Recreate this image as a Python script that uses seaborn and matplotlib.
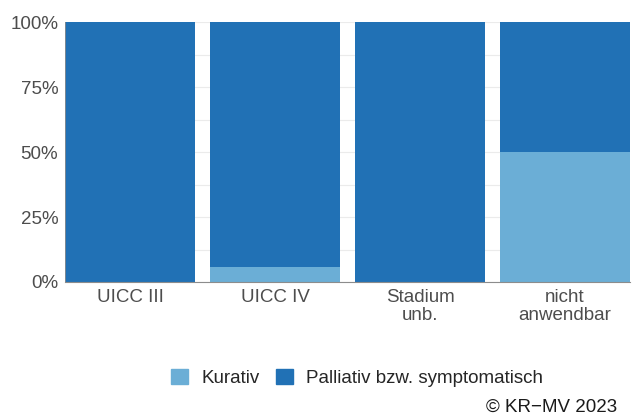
import numpy as np
import pandas as pd
import seaborn as sns
import matplotlib.pyplot as plt
from matplotlib.patches import Patch
from matplotlib.ticker import MultipleLocator, PercentFormatter

# data (percent of cases)
stadien = ['UICC III', 'UICC IV', 'Stadium\nunb.', 'nicht\nanwendbar']
kurativ = [0.0, 5.8, 0.0, 50.0]
palliativ = [100.0, 94.2, 100.0, 50.0]

col_kur = '#6baed6'
col_pal = '#2171b5'

sns.set_style('white')
plt.rcParams['font.family'] = ['Liberation Sans', 'DejaVu Sans']

df = pd.DataFrame({'stadium': stadien, 'kurativ': kurativ, 'palliativ': palliativ})
df['gesamt'] = df['kurativ'] + df['palliativ']

fig = plt.figure(figsize=(6.32, 4.19), dpi=100)
ax = fig.add_axes([0.103, 0.327, 0.894, 0.62])

# stacked: full bar in dark blue, kurativ part over it
sns.barplot(data=df, x='stadium', y='gesamt', color=col_pal, width=0.9, saturation=1,
            linewidth=0, ax=ax)
sns.barplot(data=df, x='stadium', y='kurativ', color=col_kur, width=0.9, saturation=1,
            linewidth=0, ax=ax)

ax.set_xlim(-0.45, 3.45)
ax.set_ylim(0, 100)
ax.yaxis.set_major_locator(MultipleLocator(25))
ax.yaxis.set_minor_locator(MultipleLocator(12.5))
ax.yaxis.set_major_formatter(PercentFormatter(decimals=0))
ax.grid(axis='y', which='both', color='#ebebeb', linewidth=0.8)
ax.set_axisbelow(True)
ax.set_xlabel('')
ax.set_ylabel('')

for s in ['top', 'right']:
    ax.spines[s].set_visible(False)
ax.spines['bottom'].set_color('#8c8c8c')
ax.spines['left'].set_color('#8c8c8c')
ax.spines['left'].set_linewidth(0.6)
ax.tick_params(axis='both', length=0, labelsize=13.5, colors='#4d4d4d')
ax.tick_params(axis='y', pad=5)
ax.tick_params(axis='x', pad=5)
for lab in ax.get_xticklabels():
    lab.set_linespacing(1.1)

handles = [Patch(color=col_kur, label='Kurativ'),
           Patch(color=col_pal, label='Palliativ bzw. symptomatisch')]
fig.legend(handles=handles, loc='center', bbox_to_anchor=(0.565, 0.098), ncol=2,
           frameon=False, handlelength=0.9, handleheight=0.9,
           columnspacing=0.9, handletextpad=0.7, prop={'size': 13.5})

fig.text(0.977, 0.028, '© KR\u2212MV 2023', ha='right', va='center', fontsize=13.5, color='#1a1a1a')

fig.savefig('out.png', dpi=100)
